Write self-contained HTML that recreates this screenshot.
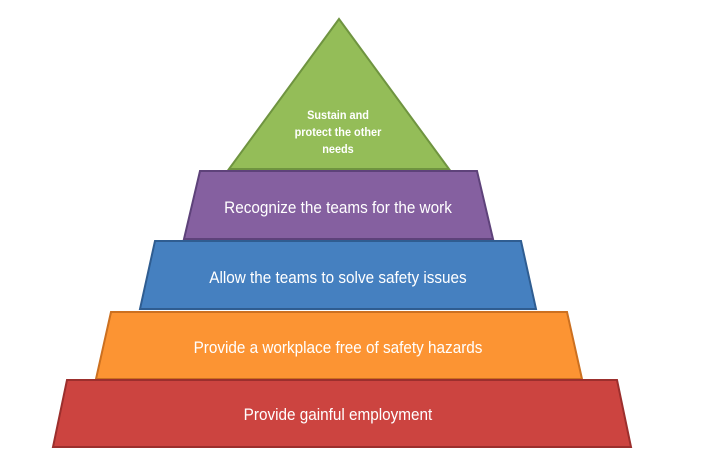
<!DOCTYPE html>
<html><head><meta charset="utf-8"><style>
html,body{margin:0;padding:0;background:#fff;width:704px;height:469px;overflow:hidden}
svg text{font-family:"Liberation Sans",sans-serif;fill:#fff;text-anchor:middle}
</style></head><body>
<svg width="704" height="469" viewBox="0 0 704 469" xmlns="http://www.w3.org/2000/svg">
<g stroke-width="2" stroke-linejoin="miter">
<polygon points="339,19 449,169 229,169" fill="#94bd58" stroke="#6f9440"/>
<polygon points="200,171 477,171 493,239 184,239" fill="#8560a0" stroke="#5e427a"/>
<polygon points="155,241 521,241 536,309 140,309" fill="#4580c0" stroke="#2f5d91"/>
<polygon points="111,312 567,312 582,379 96,379" fill="#fc9433" stroke="#cc7020"/>
<polygon points="67,380 617,380 631,447 53,447" fill="#cc4440" stroke="#9c2f2d"/>
</g>
<g font-size="11.5" font-weight="bold" transform="translate(338 0) scale(0.95 1) translate(-338 0)">
<text x="338" y="119">Sustain and</text>
<text x="338" y="136">protect the other</text>
<text x="338" y="153">needs</text>
</g>
<g font-size="17" transform="translate(338 0) scale(0.9 1) translate(-338 0)">
<text x="338" y="213">Recognize the teams for the work</text>
<text x="338" y="283">Allow the teams to solve safety issues</text>
<text x="338" y="353">Provide a workplace free of safety hazards</text>
<text x="338" y="420">Provide gainful employment</text>
</g>
</svg>
</body></html>
